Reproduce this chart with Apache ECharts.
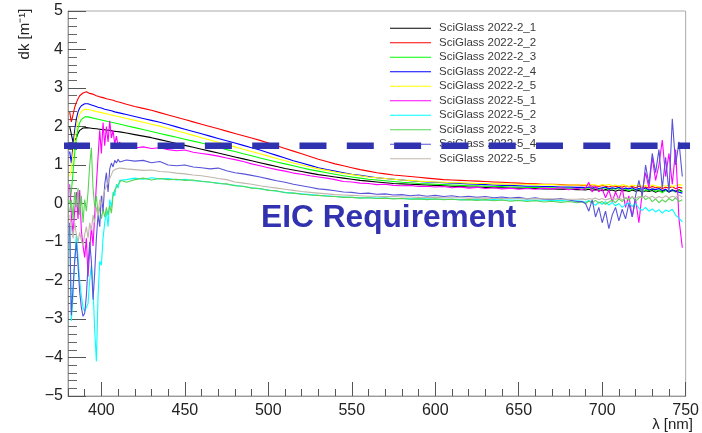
<!DOCTYPE html>
<html><head><meta charset="utf-8">
<script src="https://cdn.jsdelivr.net/npm/echarts@6/dist/echarts.min.js"></script>
<style>html,body{margin:0;padding:0;background:#fff}#c{width:702px;height:433px}</style>
</head><body><div id="c"></div>
<script>
// wavelength grid (nm)
const wavelengths = [
 381,382,383,384,385,386,387,388,389,390,391,392,393,394,395,396,397,398,399,400,401,402,403,404,405,406,407,408,409,410,411,412,
 415,420,425,430,435,440,445,450,455,460,465,470,475,480,485,490,495,500,505,510,515,520,525,530,535,540,545,550,555,560,
 565,570,575,580,585,590,595,600,605,610,615,620,625,630,635,640,645,650,655,660,665,670,675,680,685,
 688,690,692,694,696,698,700,702,704,706,708,710,712,714,716,718,720,722,724,726,728,730,732,734,736,738,740,742,744,746,748];

const sg22_1 = [
 2.00,1.80,1.60,1.55,1.70,1.82,1.90,1.94,1.96,1.97, 1.97,1.96,1.96,1.95,1.95,1.94,1.94,1.93,1.93,1.92, 1.92,1.91,1.91,1.90,1.90,1.89,1.88,1.88,1.87,1.86, 1.86,1.85,
 1.83,1.79,1.75,1.71,1.66,1.61,1.56,1.51,1.46,1.41, 1.36,1.31,1.26,1.21,1.16,1.11,1.06,1.01,0.96,0.91, 0.87,0.83,0.79,0.75,0.72,0.69,0.66,0.63,0.60,0.58, 0.56,0.54,0.52,0.51,0.50,0.49,0.48,0.47,0.46,0.45, 0.44,0.43,0.43,0.42,0.41,0.41,0.40,0.40,0.39,0.39, 0.38,0.38,0.37,0.37,0.36,
 0.36,0.35,0.37,0.34,0.36,0.35,0.33,0.36,0.34,0.35, 0.32,0.35,0.33,0.34,0.31,0.35,0.32,0.34,0.30,0.33, 0.31,0.34,0.29,0.33,0.31,0.35,0.30,0.34,0.32,0.36, 0.31];
const sg22_2 = [
 2.38,2.12,2.30,2.50,2.62,2.72,2.80,2.84,2.87,2.89, 2.90,2.88,2.86,2.85,2.84,2.82,2.80,2.79,2.77,2.76, 2.75,2.73,2.72,2.71,2.70,2.69,2.68,2.66,2.65,2.64, 2.63,2.62,
 2.58,2.52,2.47,2.42,2.36,2.30,2.24,2.18,2.12,2.06, 2.00,1.94,1.88,1.82,1.76,1.70,1.64,1.57,1.50,1.43, 1.36,1.29,1.22,1.15,1.09,1.03,0.98,0.93,0.88,0.84, 0.80,0.77,0.74,0.72,0.70,0.68,0.66,0.64,0.62,0.61, 0.60,0.59,0.58,0.57,0.56,0.55,0.54,0.53,0.52,0.51, 0.50,0.50,0.49,0.48,0.48,
 0.47,0.46,0.48,0.45,0.46,0.44,0.47,0.45,0.43,0.46, 0.44,0.45,0.42,0.46,0.43,0.44,0.41,0.45,0.42,0.43, 0.40,0.44,0.41,0.43,0.39,0.42,0.40,0.44,0.38,0.42, 0.40];
const sg22_3 = [
 0.00,0.30,0.80,1.30,1.70,1.95,2.10,2.18,2.22,2.25, 2.26,2.25,2.24,2.23,2.22,2.21,2.20,2.19,2.18,2.17, 2.16,2.15,2.14,2.13,2.12,2.11,2.10,2.09,2.08,2.07, 2.06,2.05,
 2.02,1.97,1.92,1.87,1.82,1.77,1.72,1.67,1.62,1.57, 1.52,1.46,1.40,1.35,1.29,1.24,1.18,1.13,1.08,1.03, 0.98,0.93,0.88,0.84,0.80,0.76,0.72,0.69,0.66,0.63, 0.61,0.59,0.57,0.55,0.54,0.52,0.51,0.50,0.49,0.48, 0.47,0.46,0.46,0.45,0.44,0.44,0.43,0.43,0.42,0.42, 0.41,0.41,0.40,0.40,0.40,
 0.40,0.39,0.41,0.38,0.40,0.37,0.39,0.41,0.36,0.39, 0.37,0.40,0.35,0.38,0.33,0.37,0.35,0.38,0.30,0.36, 0.33,0.37,0.31,0.35,0.28,0.34,0.32,0.36,0.29,0.33, 0.30];
const sg22_4 = [
 1.35,1.05,1.50,1.90,2.20,2.38,2.48,2.54,2.57,2.59, 2.60,2.59,2.57,2.56,2.55,2.53,2.52,2.50,2.49,2.48, 2.46,2.45,2.44,2.43,2.42,2.41,2.40,2.38,2.37,2.36, 2.35,2.34,
 2.31,2.26,2.21,2.16,2.11,2.05,1.99,1.93,1.87,1.81, 1.75,1.69,1.63,1.57,1.51,1.45,1.39,1.32,1.25,1.18, 1.11,1.05,0.99,0.93,0.88,0.84,0.80,0.76,0.73,0.70, 0.67,0.65,0.63,0.61,0.59,0.57,0.56,0.55,0.54,0.53, 0.52,0.51,0.50,0.49,0.48,0.47,0.47,0.46,0.45,0.45, 0.44,0.44,0.43,0.43,0.42,
 0.42,0.41,0.43,0.40,0.42,0.39,0.41,0.43,0.38,0.41, 0.39,0.42,0.37,0.40,0.38,0.41,0.36,0.39,0.37,0.40, 0.35,0.38,0.36,0.39,0.34,0.37,0.30,0.36,0.32,0.29, 0.27];
const sg22_5 = [
 0.70,0.90,1.30,1.70,2.00,2.20,2.32,2.39,2.43,2.45, 2.45,2.44,2.43,2.42,2.41,2.40,2.39,2.38,2.37,2.36, 2.35,2.34,2.33,2.32,2.31,2.30,2.29,2.28,2.27,2.26, 2.25,2.24,
 2.21,2.16,2.11,2.06,2.01,1.95,1.89,1.83,1.77,1.71, 1.65,1.59,1.53,1.47,1.41,1.35,1.29,1.23,1.17,1.11, 1.05,1.00,0.95,0.90,0.86,0.82,0.78,0.75,0.72,0.69, 0.67,0.65,0.63,0.61,0.60,0.58,0.57,0.56,0.55,0.54, 0.54,0.53,0.52,0.52,0.51,0.51,0.50,0.50,0.50,0.49, 0.49,0.49,0.48,0.48,0.48,
 0.48,0.49,0.47,0.50,0.48,0.46,0.49,0.47,0.50,0.46, 0.48,0.45,0.49,0.47,0.44,0.48,0.46,0.49,0.45,0.47, 0.44,0.48,0.46,0.43,0.47,0.45,0.48,0.44,0.46,0.49, 0.47];
const sg25_1 = [
 0.50,-0.30,-0.80,-0.20,0.30,-0.40,0.35,-0.70,-1.10,-1.40, -0.90,-1.90,-1.20,-0.60,-1.10,-0.30,0.50,1.20,1.90,1.30, 2.10,1.50,2.00,1.60,2.15,1.70,1.90,1.55,1.75,1.50, 1.60,1.45,
 1.46,1.44,1.47,1.43,1.45,1.40,1.37,1.39,1.33,1.30, 1.27,1.23,1.18,1.14,1.09,1.03,0.98,0.93,0.88,0.84, 0.79,0.76,0.72,0.69,0.66,0.62,0.57,0.56,0.53,0.52, 0.49,0.50,0.47,0.46,0.47,0.44,0.45,0.43,0.44,0.41, 0.43,0.40,0.42,0.39,0.41,0.38,0.40,0.37,0.39,0.37, 0.40,0.38,0.41,0.36,0.39,
 0.36,0.40,0.55,0.30,0.45,0.30,0.38,0.15,0.35,0.05, 0.30,0.10,0.40,-0.10,0.20,-0.35,0.10,-0.50,0.30,0.80, 0.40,1.20,0.60,1.00,1.65,0.70,1.30,0.50,1.40,-0.40, -1.15];
const sg25_2 = [
 -0.60,-3.05,-2.40,-1.50,-0.80,-1.40,-2.00,-2.40,-2.70,-2.80, -2.80,-2.60,-2.00,-1.60,-2.20,-3.30,-4.10,-2.40,-1.50,-1.60, -0.90,-0.50,-0.20,-0.60,0.10,-0.10,0.30,0.20,0.50,0.40, 0.60,0.55,
 0.62,0.66,0.63,0.67,0.64,0.65,0.61,0.63,0.59,0.58, 0.55,0.53,0.50,0.47,0.44,0.41,0.38,0.35,0.32,0.29, 0.27,0.25,0.23,0.21,0.20,0.18,0.17,0.16,0.15,0.15, 0.14,0.14,0.13,0.13,0.12,0.12,0.12,0.11,0.11,0.11, 0.10,0.10,0.10,0.09,0.10,0.09,0.09,0.08,0.09,0.08, 0.09,0.07,0.08,0.06,0.07,
 0.06,0.03,0.08,0.02,-0.05,0.04,-0.02,0.05,-0.04,0.03, -0.06,0.00,-0.10,-0.03,0.02,-0.08,0.00,-0.12,-0.18,-0.10, -0.20,-0.14,-0.22,-0.16,-0.25,-0.17,-0.21,-0.15,-0.30,-0.38, -0.48];
const sg25_3 = [
 -0.20,0.10,-0.40,0.30,-0.10,0.40,-0.30,0.20,-0.50,0.10, -0.20,0.30,1.00,1.45,0.40,-0.10,0.20,-0.30,-0.10,-0.40, -0.15,-0.35,-0.10,-0.30,-0.05,-0.25,0.20,0.35,0.30,0.50, 0.45,0.60,
 0.55,0.62,0.66,0.61,0.65,0.62,0.63,0.60,0.61,0.57, 0.56,0.52,0.51,0.46,0.45,0.40,0.39,0.34,0.33,0.28, 0.27,0.24,0.22,0.21,0.19,0.18,0.16,0.16,0.14,0.15, 0.13,0.14,0.12,0.13,0.11,0.12,0.10,0.12,0.10,0.11, 0.09,0.10,0.08,0.10,0.07,0.09,0.06,0.08,0.05,0.07, 0.04,0.06,0.03,0.05,0.02,
 0.04,0.00,0.06,0.02,0.08,0.01,0.05,-0.02,0.04,0.09, 0.02,0.12,0.05,0.15,0.08,0.18,0.06,0.14,0.20,0.10, 0.16,0.05,0.12,0.02,0.10,0.04,0.13,0.07,0.15,0.05, 0.10];
const sg25_4 = [
 -0.50,-2.90,-2.20,-1.50,-1.00,-1.60,-2.30,-2.70,-2.93,-2.85, -2.40,-1.60,-1.00,-1.50,-2.50,-1.80,-0.90,-0.30,-0.60,0.20, -0.20,0.50,0.80,0.30,0.90,1.05,0.95,1.12,1.05,1.15, 1.08,1.12,
 1.13,1.10,1.12,1.06,1.09,1.00,0.98,1.00,0.95,0.93, 0.90,0.92,0.85,0.80,0.77,0.73,0.69,0.64,0.59,0.55, 0.50,0.46,0.42,0.38,0.36,0.33,0.30,0.29,0.26,0.27, 0.24,0.25,0.22,0.23,0.20,0.22,0.19,0.21,0.18,0.20, 0.17,0.19,0.16,0.18,0.15,0.17,0.14,0.16,0.12,0.15, 0.11,0.10,0.13,0.09,0.05,
 0.05,0.00,-0.20,0.10,-0.35,-0.10,-0.50,-0.20,-0.65,-0.30, -0.10,-0.45,-0.15,-0.40,0.00,-0.35,0.20,0.60,0.20,1.00, 0.50,1.30,0.80,1.40,0.40,1.20,0.30,2.20,1.00,1.60, 0.70];
const sg25_5 = [
 -0.30,-0.60,-0.90,-0.50,-0.80,-1.00,-0.75,-0.95,-1.10,-0.80, -0.60,-0.90,-0.50,-0.70,-0.30,-0.50,-0.10,-0.30,0.10,-0.05, 0.20,0.35,0.30,0.55,0.60,0.75,0.85,0.82,0.90,0.88, 0.92,0.89,
 0.90,0.88,0.86,0.87,0.83,0.82,0.79,0.77,0.74,0.72, 0.69,0.65,0.62,0.56,0.53,0.50,0.46,0.43,0.40,0.37, 0.34,0.31,0.29,0.27,0.25,0.23,0.22,0.21,0.20,0.19, 0.19,0.18,0.18,0.17,0.17,0.16,0.16,0.16,0.15,0.15, 0.15,0.14,0.14,0.14,0.13,0.13,0.13,0.13,0.12,0.12, 0.12,0.12,0.11,0.11,0.11,
 0.12,0.10,0.13,0.11,0.14,0.10,0.13,0.09,0.12,0.15, 0.11,0.14,0.10,0.16,0.12,0.17,0.13,0.18,0.14,0.20, 0.15,0.19,0.13,0.18,0.14,0.20,0.15,0.19,0.16,0.22, 0.17];

const seriesNames = ['SciGlass 2022-2_1','SciGlass 2022-2_2','SciGlass 2022-2_3','SciGlass 2022-2_4','SciGlass 2022-2_5',
                     'SciGlass 2022-5_1','SciGlass 2022-5_2','SciGlass 2022-5_3','SciGlass 2022-5_4','SciGlass 2022-5_5'];
const seriesValues = [sg22_1, sg22_2, sg22_3, sg22_4, sg22_5, sg25_1, sg25_2, sg25_3, sg25_4, sg25_5];
const seriesColors = ['#000000','#ff0000','#00ff00','#0000ff','#ffff00','#ff00ff','#00ffff','#59d454','#5954d8','#c0b6ac'];

const xTickValues = [400,450,500,550,600,650,700,750];
const requirementLevel = 1.5;
const requirementSpan = [377, 756];

const FONT = 'Liberation Sans, Arial, sans-serif';
const chart = echarts.init(document.getElementById('c'), null, {renderer:'canvas'});

const series = seriesNames.map((n, i) => ({
  name: n, type: 'line', xAxisIndex: 0, yAxisIndex: 0,
  data: wavelengths.map((w, j) => [w, seriesValues[i][j]]),
  symbol: 'none', showSymbol: false,
  lineStyle: {width: 1.1, color: seriesColors[i]},
  itemStyle: {color: seriesColors[i]},
  z: 2
}));
series.push({
  name: 'EIC Requirement', type: 'line', xAxisIndex: 0, yAxisIndex: 0,
  data: requirementSpan.map(w => [w, requirementLevel]),
  symbol: 'none', clip: false, silent: true, z: 10,
  lineStyle: {width: 6.5, type: [27, 20.3], color: '#2f33b0'}
});

chart.setOption({
  animation: false,
  backgroundColor: '#ffffff',
  grid: {left: 68, right: 8, top: 11, bottom: 37, show: true, borderColor: '#aaaaaa', borderWidth: 1, backgroundColor: 'transparent'},
  legend: {
    data: seriesNames, orient: 'vertical', left: 390, top: 21, z: 4, padding: 0,
    icon: 'rect', itemWidth: 41, itemHeight: 1.2, itemGap: 0,
    textStyle: {fontFamily: FONT, fontSize: 11.5, lineHeight: 14.5, color: '#3a3a3a', padding: [0,0,0,3]},
    selectedMode: false
  },
  xAxis: [{
    type: 'value', min: 380, max: 750, position: 'bottom',
    axisLine: {show: true, onZero: false, lineStyle: {color: '#999', width: 1}},
    axisTick: {show: true, inside: true, length: 14, customValues: xTickValues, lineStyle: {color: '#555'}},
    axisLabel: {customValues: xTickValues, margin: 7, fontFamily: FONT, fontSize: 16, color: '#222'},
    splitLine: {show: false}
  }, {
    type: 'value', min: 380, max: 750, interval: 10, position: 'bottom',
    axisLine: {show: false, onZero: false},
    axisTick: {show: true, inside: true, length: 7, lineStyle: {color: '#555'}},
    axisLabel: {show: false},
    splitLine: {show: false}
  }],
  yAxis: {
    type: 'value', min: -5, max: 5, interval: 1,
    axisLine: {show: true, onZero: false, lineStyle: {color: '#999', width: 1}},
    axisTick: {show: true, inside: true, length: 18, lineStyle: {color: '#555'}},
    minorTick: {show: true, splitNumber: 5, length: 9, lineStyle: {color: '#666'}},
    axisLabel: {margin: 5, fontFamily: FONT, fontSize: 16, color: '#222',
      formatter: v => (v < 0 ? '\u2212' + (-v) : String(v))},
    splitLine: {show: false}
  },
  graphic: [
    {type: 'text', x: 25, y: 34, rotation: Math.PI / 2,
     style: {text: 'dk [m\u207B\u00B9]', fontFamily: FONT, fontSize: 15, fill: '#222', textAlign: 'center', textVerticalAlign: 'middle'}},
    {type: 'text', x: 693, y: 425,
     style: {text: '\u03BB [nm]', fontFamily: FONT, fontSize: 15, fill: '#222', textAlign: 'right', textVerticalAlign: 'middle'}},
    {type: 'text', x: 261, y: 218.5, z: 20,
     style: {text: 'EIC Requirement', fontFamily: FONT, fontWeight: 'bold', fontSize: 31.7, fill: '#3232b0', textAlign: 'left', textVerticalAlign: 'middle'}}
  ],
  series: series
});
</script></body></html>
